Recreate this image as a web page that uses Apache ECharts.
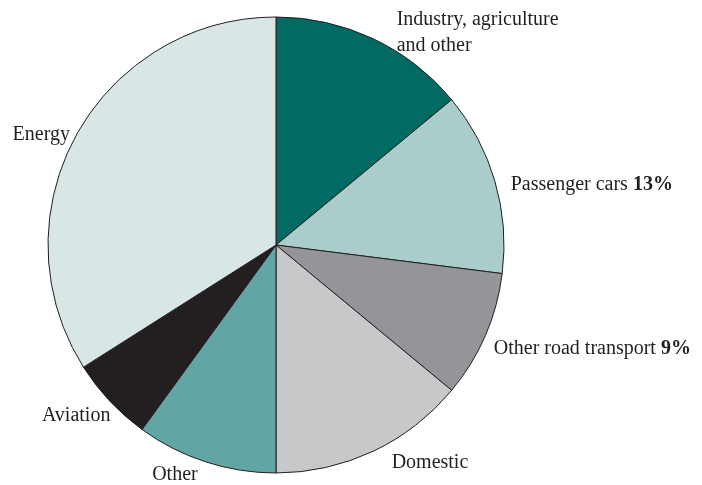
<!DOCTYPE html>
<html style="height: 100%" lang="en">
<head>
    <meta charset="UTF-8">
    <title>Emissions by source</title>
</head>
<body style="height: 100%; margin: 0; background: #ffffff">
<div id="main1" style="width: 702px; height: 485px"></div>

<script src="https://cdn.jsdelivr.net/npm/echarts@6/dist/echarts.min.js"></script>
<script type="text/javascript">

    // slices, clockwise from 12 o'clock
    var categories = ['Industry, agriculture\nand other', 'Passenger cars', 'Other road transport',
        'Domestic', 'Other', 'Aviation', 'Energy'];
    var shares = [14, 13, 9, 14, 10, 6, 34];
    // only some labels carry the percentage
    var showShare = [false, true, true, false, false, false, false];
    var sliceColors = ['#006a63', '#aacdcb', '#939598', '#c7c8ca', '#61a5a4', '#231f20', '#d8e6e6'];

    // small nudges so labels sit where the original put them
    var labelNudge = [[16, -1], [5, 5], [-2, 11], [11, 6], [-1, 7], [10, 11], [4, 2]];

    var myChart1 = echarts.init(document.getElementById('main1'));

    var pieData = categories.map(function (name, i) {
        return {
            name: name,
            value: shares[i],
            itemStyle: { color: sliceColors[i] }
        };
    });

    var option1 = {
        backgroundColor: '#ffffff',
        animation: false,
        series: [
            {
                type: 'pie',
                center: [276, 245],
                radius: 228,
                startAngle: 90,
                clockwise: true,
                avoidLabelOverlap: false,
                data: pieData,
                itemStyle: {
                    borderColor: '#231f20',
                    borderWidth: 1
                },
                label: {
                    show: true,
                    position: 'outside',
                    fontFamily: 'Liberation Serif',
                    fontSize: 20,
                    color: '#231f20',
                    lineHeight: 26,
                    formatter: function (p) {
                        var i = p.dataIndex;
                        if (showShare[i]) {
                            return p.name + ' {b|' + shares[i] + '%}';
                        }
                        return p.name;
                    },
                    rich: {
                        b: {
                            fontFamily: 'Liberation Serif',
                            fontSize: 20,
                            fontWeight: 'bold',
                            color: '#231f20'
                        }
                    }
                },
                labelLine: {
                    show: false,
                    length: 6,
                    length2: 0
                },
                labelLayout: function (p) {
                    var n = labelNudge[p.dataIndex];
                    return { dx: n[0], dy: n[1] };
                }
            }
        ]
    };

    myChart1.setOption(option1);

</script>
</body>
</html>
